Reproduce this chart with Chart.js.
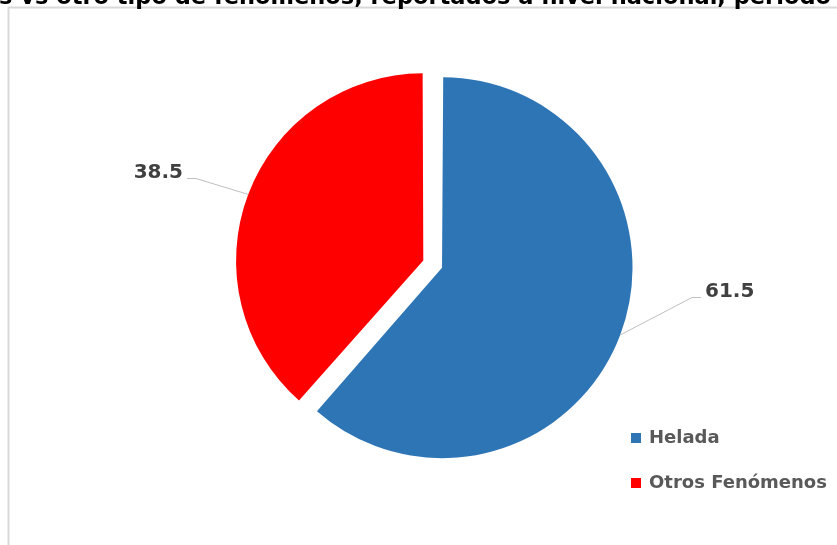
<!DOCTYPE html>
<html>
<head>
<meta charset="utf-8">
<script src="https://cdn.jsdelivr.net/npm/chart.js@4"></script>
<style>
  body { margin: 0; background: #fff; }
  #wrap { width: 837px; height: 545px; }
</style>
</head>
<body>
<div id="wrap"><canvas id="pie" width="837" height="545"></canvas></div>
<script>
const categories = ["Helada", "Otros Fenómenos"];
const percentages = [61.5, 38.5];
const sliceColors = ["#2E75B6", "#FF0000"];
const titleText = "Heladas vs otro tipo de fenómenos, reportados a nivel nacional, período";

// where each value label sits (text anchor) and how it's aligned
const labelSpots = [
    { x: 705, y: 297, align: "left" },
    { x: 183, y: 178, align: "right" },
];

// frame + clipped title across the top
const framePlugin = {
    id: "frame",
    beforeDraw(chart) {
        const ctx = chart.ctx;
        ctx.save();
        ctx.fillStyle = "#fff";
        ctx.fillRect(0, 0, chart.width, chart.height);
        ctx.strokeStyle = "#d9d9d9";
        ctx.lineWidth = 2;
        ctx.beginPath();
        ctx.moveTo(8.5, chart.height + 5);
        ctx.lineTo(8.5, 7.5);
        ctx.lineTo(chart.width + 5, 7.5);
        ctx.stroke();

        // only the tail of the title fits on the canvas
        const visible = "s vs otro tipo de fenómenos, reportados a nivel nacional, período";
        ctx.font = "bold 20px 'DejaVu Sans'";
        const size = 20 * 832 / ctx.measureText(visible).width;
        ctx.font = "bold " + size.toFixed(2) + "px 'DejaVu Sans'";
        ctx.fillStyle = "#000";
        ctx.textAlign = "right";
        ctx.textBaseline = "alphabetic";
        ctx.fillText(titleText, 831, 4);
        ctx.restore();
    },
};

const sliceLabels = {
    id: "sliceLabels",
    afterDatasetsDraw(chart) {
        const ctx = chart.ctx;
        const meta = chart.getDatasetMeta(0);
        const values = chart.data.datasets[0].data;
        ctx.save();
        meta.data.forEach((arc, i) => {
            const p = arc.getProps(["x", "y", "startAngle", "endAngle", "outerRadius", "circumference"], true);
            const mid = (p.startAngle + p.endAngle) / 2;
            // ArcElement moves the slice by offset/4 and grows its radius by offset/4 * fix
            const shift = (arc.options.offset || 0) / 4;
            const fix = 1 - Math.sin(Math.min(Math.PI, p.circumference));
            const r = p.outerRadius + shift * fix;
            const ax = p.x + Math.cos(mid) * (shift + r);
            const ay = p.y + Math.sin(mid) * (shift + r);
            const spot = labelSpots[i];
            const dir = spot.align === "left" ? -1 : 1;

            ctx.strokeStyle = "#bfbfbf";
            ctx.lineWidth = 1;
            ctx.beginPath();
            ctx.moveTo(ax, ay);
            ctx.lineTo(spot.x + dir * 13, spot.y + 0.5);
            ctx.lineTo(spot.x + dir * 4, spot.y + 0.5);
            ctx.stroke();

            ctx.font = "bold 20px 'DejaVu Sans'";
            ctx.fillStyle = "#404040";
            ctx.textAlign = spot.align;
            ctx.textBaseline = "alphabetic";
            ctx.fillText(values[i].toFixed(1), spot.x, spot.y);
        });

        // legend, bottom right
        ctx.font = "bold 18px 'DejaVu Sans'";
        ctx.textAlign = "left";
        chart.data.labels.forEach((name, i) => {
            const y = 443 + i * 45;
            ctx.fillStyle = sliceColors[i];
            ctx.fillRect(631, y - 10, 10, 10);
            ctx.fillStyle = "#595959";
            ctx.fillText(name, 649, y);
        });
        ctx.restore();
    },
};

new Chart(document.getElementById("pie"), {
    type: "pie",
    data: {
        labels: categories,
        datasets: [
            {
                data: percentages,
                backgroundColor: sliceColors,
                borderWidth: 0,
                offset: [30, 50],
                hoverOffset: 0,
            },
        ],
    },
    options: {
        responsive: false,
        animation: false,
        events: [],
        layout: { padding: { left: 227, right: 194, top: 57, bottom: 72 } },
        plugins: {
            legend: { display: false },
            tooltip: { enabled: false },
        },
    },
    plugins: [framePlugin, sliceLabels],
});
</script>
</body>
</html>
